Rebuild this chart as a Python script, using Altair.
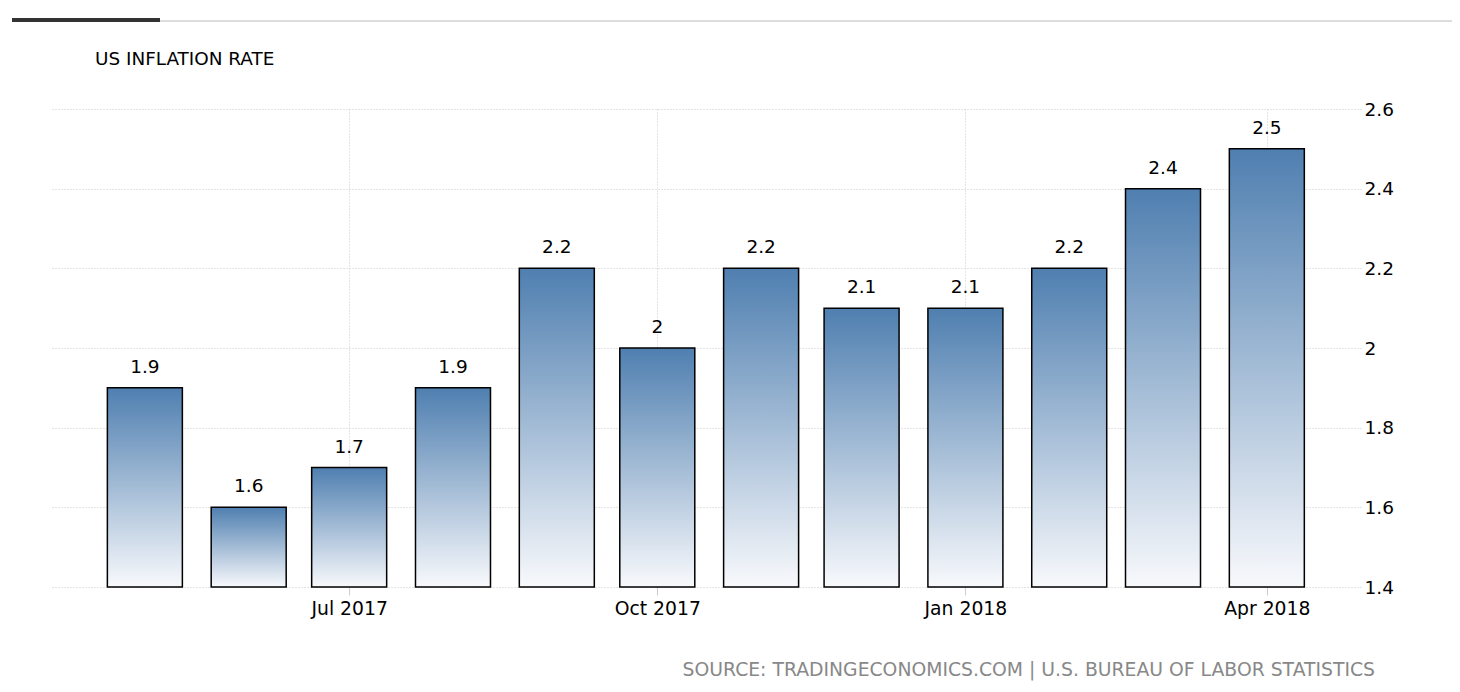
import altair as alt
import pandas as pd

# ---- data ----
months = ["2017-05-01", "2017-06-01", "2017-07-01", "2017-08-01", "2017-09-01", "2017-10-01",
          "2017-11-01", "2017-12-01", "2018-01-01", "2018-02-01", "2018-03-01", "2018-04-01"]
rates = [1.9, 1.6, 1.7, 1.9, 2.2, 2.0, 2.2, 2.1, 2.1, 2.2, 2.4, 2.5]
y_ticks = [1.4, 1.6, 1.8, 2.0, 2.2, 2.4, 2.6]
title_text = "US INFLATION RATE"
source_text = "SOURCE: TRADINGECONOMICS.COM | U.S. BUREAU OF LABOR STATISTICS"

df = pd.DataFrame({"month": months, "rate": rates})

FONT = "DejaVu Sans"

x_scale = alt.Scale(
    type="utc",
    domain=[alt.DateTime(year=2017, month=4, date=4, hours=4, utc=True),
            alt.DateTime(year=2018, month=4, date=27, hours=15, utc=True)],
)
x_axis = alt.Axis(
    values=[alt.DateTime(year=2017, month=7, date=1, utc=True),
            alt.DateTime(year=2017, month=10, date=1, utc=True),
            alt.DateTime(year=2018, month=1, date=1, utc=True),
            alt.DateTime(year=2018, month=4, date=1, utc=True)],
    format="%b %Y",
    title=None,
    domain=False,
    ticks=True,
    tickSize=8,
    tickColor="#cccccc",
    labelPadding=4,
    labelFont=FONT,
    labelFontSize=18.8,
    labelColor="#000000",
    grid=True,
    gridColor="#c8c8c8",
    gridDash=[1, 2],
)
y_scale = alt.Scale(domain=[1.4, 2.6], zero=False, nice=False)
y_axis = alt.Axis(
    orient="right",
    values=y_ticks,
    format=".1~f",
    title=None,
    domain=False,
    ticks=False,
    labelPadding=3,
    labelFont=FONT,
    labelFontSize=18.5,
    labelColor="#000000",
    grid=True,
    gridColor="#c8c8c8",
    gridDash=[1, 2],
)

base = alt.Chart(df)

bars = base.mark_bar(
    width=75,
    stroke="#000000",
    strokeWidth=1.5,
    fill=alt.Gradient(
        gradient="linear",
        x1=0, x2=0, y1=0, y2=1,
        stops=[alt.GradientStop(color="#4f7fb0", offset=0),
               alt.GradientStop(color="#f8f9fc", offset=1)],
    ),
).encode(
    x=alt.X("month:T", scale=x_scale, axis=x_axis),
    y=alt.Y("rate:Q", scale=y_scale, axis=y_axis),
    y2=alt.datum(1.4),
)

labels = base.mark_text(
    baseline="alphabetic", dy=-15, font=FONT, fontSize=18.5, color="#000000"
).encode(
    x=alt.X("month:T", scale=x_scale),
    y=alt.Y("rate:Q", scale=y_scale),
    text=alt.Text("rate:Q", format=".1~f"),
)

title = alt.Chart(pd.DataFrame({"t": [title_text]})).mark_text(
    align="left", baseline="alphabetic", font=FONT, fontSize=18.4, color="#000000"
).encode(x=alt.value(45), y=alt.value(-44), text="t:N")

source = alt.Chart(pd.DataFrame({"t": [source_text]})).mark_text(
    align="right", baseline="alphabetic", font=FONT, fontSize=18.8, color="#888888"
).encode(x=alt.value(1325), y=alt.value(567), text="t:N")

deco = pd.DataFrame({"k": [0]})
gray_line = alt.Chart(deco).mark_rule(color="#dddddd", strokeWidth=2).encode(
    x=alt.value(110), x2=alt.value(1405), y=alt.value(-88))
dark_line = alt.Chart(deco).mark_rule(color="#333333", strokeWidth=4).encode(
    x=alt.value(-38), x2=alt.value(110), y=alt.value(-89))

chart = alt.layer(gray_line, dark_line, bars, labels, title, source).properties(
    width=1311,
    height=478,
    autosize=alt.AutoSizeParams(type="none"),
    padding={"left": 42, "top": 101, "right": 91, "bottom": 97},
).configure_view(stroke=None)

chart.save("out.html", embed_options={"renderer": "svg", "actions": False})
